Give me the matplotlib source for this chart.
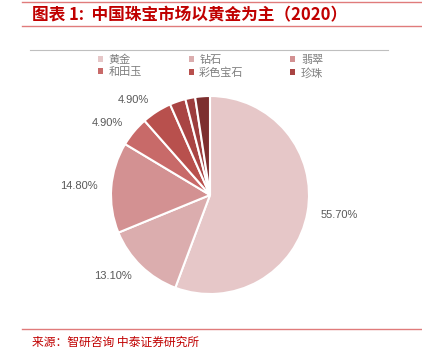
import matplotlib
matplotlib.use("Agg")
from matplotlib import pyplot as plt
from matplotlib.patches import Patch
from matplotlib.lines import Line2D

plt.rcParams['font.family'] = ['Noto Sans CJK SC', 'DejaVu Sans']

# data (2020 China jewellery market share, %)
names = ['黄金', '钻石', '翡翠', '和田玉', '彩色宝石', '珍珠', '其他1', '其他2']
shares = [55.7, 13.1, 14.8, 4.9, 4.9, 2.6, 1.6, 2.4]
pct_labels = ['55.70%', '13.10%', '14.80%', '4.90%', '4.90%', '', '', '']
legend_n = 6  # only the first six appear in the legend
colors = ['#E6C7C8', '#DBADAE', '#D39192', '#C86A69', '#B8504D',
          '#A94443', '#9C3D3D', '#7D2F2F']

fig = plt.figure(figsize=(4.22, 3.57), dpi=100, facecolor='white')

red = '#C00000'
line_red = '#E07B7B'
# top lines and title
fig.add_artist(Line2D([22/422, 1], [1 - 1.5/357] * 2, color=line_red, lw=1.0))
fig.add_artist(Line2D([22/422, 1], [1 - 26/357] * 2, color=line_red, lw=1.0))
fig.text(32/422, 1 - 15/357, '图表 1:  中国珠宝市场以黄金为主（2020）',
         color=red, fontsize=12, fontweight='bold', fontstyle='italic',
         va='center', ha='left')

# legend separator line
fig.add_artist(Line2D([30/422, 388/422], [1 - 50/357] * 2, color='#BFBFBF', lw=0.8))

# pie
ax = fig.add_axes([(210 - 99)/422, (357 - 195 - 99)/357, 198/422, 198/357])
wedges, texts = ax.pie(shares, colors=colors, startangle=90, counterclock=False,
                       labels=pct_labels, labeldistance=1.14,
                       textprops=dict(fontsize=8, color='#595959',
                                      family=['Liberation Sans', 'DejaVu Sans']),
                       wedgeprops=dict(edgecolor='white', linewidth=1.5))
ax.set_xlim(-1, 1)
ax.set_ylim(-1, 1)
ax.set_aspect('equal')
ax.axis('off')

# legend, 3 columns x 2 rows, filled row by row
order = [0, 3, 1, 4, 2, 5]
handles = [Patch(facecolor=colors[i], edgecolor='none') for i in order]
fig.legend(handles, [names[i] for i in order], ncol=3, loc='center left',
           bbox_to_anchor=(98/422, 1 - 66.5/357), frameon=False,
           fontsize=8, labelcolor='#7F7F7F', handlelength=0.45, handleheight=0.45,
           handletextpad=0.5, columnspacing=4.2, labelspacing=0.2,
           borderaxespad=0, borderpad=0)

# footer
fig.add_artist(Line2D([22/422, 1], [1 - 329/357] * 2, color=line_red, lw=1.0))
fig.text(32/422, 1 - 342/357, '来源：智研咨询 中泰证券研究所', color=red,
         fontsize=8.5, va='center', ha='left')

fig.savefig('out.png', dpi=100, facecolor='white')
